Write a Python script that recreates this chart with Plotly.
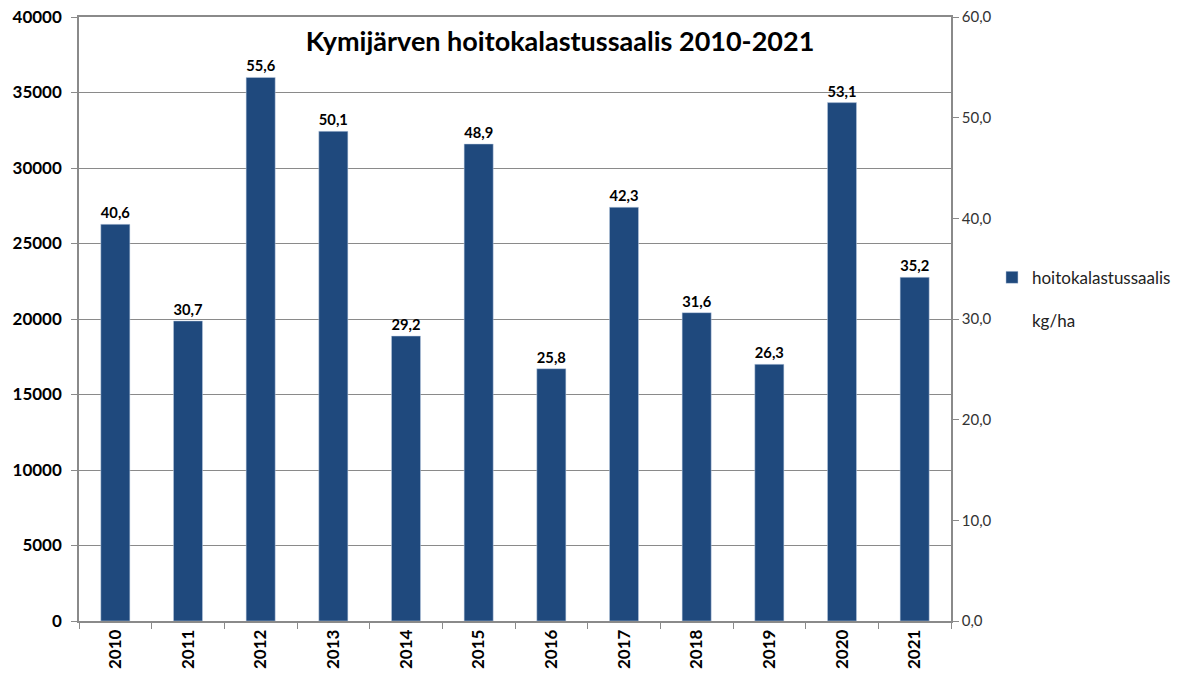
import plotly.graph_objects as go

years = ["2010", "2011", "2012", "2013", "2014", "2015", "2016", "2017", "2018", "2019", "2020", "2021"]
catch_kg = [26270, 19870, 36000, 32430, 18870, 31590, 16710, 27400, 20420, 17000, 34330, 22760]
kg_per_ha = [40.6, 30.7, 55.6, 50.1, 29.2, 48.9, 25.8, 42.3, 31.6, 26.3, 53.1, 35.2]
left_ticks = [0, 5000, 10000, 15000, 20000, 25000, 30000, 35000, 40000]
right_ticks = [0, 10, 20, 30, 40, 50, 60]
title_text = "Kymijärven hoitokalastussaalis 2010-2021"

FONT = "Lato"
GRID = "#8a8a8a"
BAR = "#1f497d"

W, H = 1197, 674

labels = [f"{v:.1f}".replace(".", ",") for v in kg_per_ha]

fig = go.Figure()
fig.add_trace(go.Bar(
    x=years, y=catch_kg, name="hoitokalastussaalis",
    marker=dict(color=BAR, line=dict(color="#c5d3e6", width=0.5)),
    text=labels, textposition="outside", cliponaxis=False,
    textfont=dict(family=FONT, size=19, color="#000000", weight="bold"),
    legendgroup="a", showlegend=True,
))
fig.add_trace(go.Scatter(
    x=years, y=kg_per_ha, name="kg/ha", yaxis="y2", mode="lines",
    line=dict(color="rgba(0,0,0,0)", width=0),
    legendgroup="b", showlegend=True, hoverinfo="skip",
))

fig.update_layout(
    width=W, height=H,
    margin=dict(l=79, r=246, t=17, b=53, autoexpand=False),
    paper_bgcolor="white", plot_bgcolor="white",
    bargap=0.6,
    font=dict(family=FONT, color="#000000"),
    title=dict(text=title_text, x=560 / W, xanchor="center", y=1 - 42 / H, yanchor="middle",
               font=dict(family=FONT, size=27, color="#000000", weight="bold")),
    xaxis=dict(
        type="category", showgrid=False, showline=True, linecolor=GRID, linewidth=1.5,
        mirror=True,
        ticks="outside", ticklen=6, tickcolor=GRID, tickson="boundaries",
        tickangle=-90, tickfont=dict(family=FONT, size=17, color="#000000", weight="bold"),
        automargin=False,
    ),
    yaxis=dict(
        range=[0, 40000], tickvals=left_ticks, ticktext=[str(t) for t in left_ticks],
        showgrid=True, gridcolor=GRID, gridwidth=1.2,
        showline=True, linecolor=GRID, linewidth=1.5,
        ticks="outside", ticklen=6, tickcolor=GRID, ticklabelstandoff=6,
        ticklabeloverflow="allow",
        tickfont=dict(family=FONT, size=17, color="#000000", weight="bold"),
        zeroline=False, automargin=False,
    ),
    yaxis2=dict(
        range=[0, 60], tickvals=right_ticks, ticktext=[f"{t:.1f}".replace(".", ",") for t in right_ticks],
        overlaying="y", side="right", showgrid=False,
        showline=True, linecolor=GRID, linewidth=1.5,
        ticks="outside", ticklen=6, tickcolor=GRID,
        ticklabeloverflow="allow",
        tickfont=dict(family=FONT, size=15, color="#333333"),
        zeroline=False, automargin=False,
    ),
    legend=dict(
        x=1.047, y=0.598, xanchor="left", yanchor="top",
        font=dict(family=FONT, size=17, color="#222222"),
        traceorder="grouped", tracegroupgap=18,
        bgcolor="rgba(0,0,0,0)",
    ),
)

fig.write_html("out.html", config={"displayModeBar": False},
               post_script="document.body.style.margin='0';")
